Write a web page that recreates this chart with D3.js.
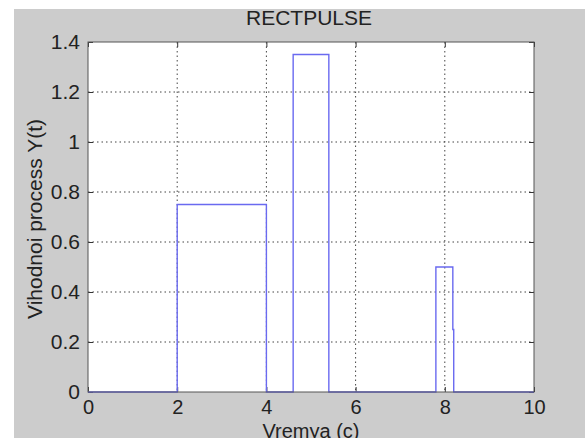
<!DOCTYPE html>
<html><head><meta charset="utf-8">
<script src="https://cdn.jsdelivr.net/npm/d3@7"></script>
<style>body{margin:0;background:#fff}svg{display:block}text{font-family:"Liberation Sans",Arial,sans-serif;fill:#222}</style>
</head><body><svg id="c" width="585" height="442"></svg>
<script>
const timeValues = [0, 2, 2, 4, 4, 4.6, 4.6, 5.4, 5.4, 7.8, 7.8, 8.18, 8.18, 8.2, 8.2, 10];
const outputValues = [0, 0, 0.75, 0.75, 0, 0, 1.35, 1.35, 0, 0, 0.5, 0.5, 0.25, 0.25, 0, 0];
const xTicks = [0, 2, 4, 6, 8, 10];
const yTicks = [0, 0.2, 0.4, 0.6, 0.8, 1, 1.2, 1.4];
const titleText = "RECTPULSE";
const xLabel = "Vremya (c)";
const yLabel = "Vihodnoi process Y(t)";

const svg = d3.select("#c");
const L = 88, R = 534, T = 42, B = 392;
svg.append("rect").attr("x", 14).attr("y", 9).attr("width", 571).attr("height", 429).attr("fill", "#cccccc");
svg.append("rect").attr("x", L).attr("y", T).attr("width", R - L).attr("height", B - T).attr("fill", "#fff");

const x = d3.scaleLinear().domain([0, 10]).range([L, R]);
const y = d3.scaleLinear().domain([0, 1.4]).range([B, T]);

// grid
const g = svg.append("g");
g.selectAll(".gx").data(xTicks.slice(1, -1)).join("line")
  .attr("x1", d => x(d)).attr("x2", d => x(d)).attr("y1", T).attr("y2", B)
  .attr("stroke", "#444").attr("stroke-dasharray", "1.5,3");
g.selectAll(".gy").data(yTicks.slice(1, -1)).join("line")
  .attr("y1", d => y(d)).attr("y2", d => y(d)).attr("x1", L).attr("x2", R)
  .attr("stroke", "#444").attr("stroke-dasharray", "1.5,3");

// axes
const tickLen = 5;
const axB = d3.axisBottom(x).tickValues(xTicks).tickSize(-tickLen).tickPadding(8).tickFormat(d3.format("d"));
const axT = d3.axisTop(x).tickValues(xTicks).tickSize(-tickLen).tickFormat("");
const axL = d3.axisLeft(y).tickValues(yTicks).tickSize(-tickLen).tickPadding(8).tickFormat(d => d === 0 ? "0" : d3.format("")(+d.toFixed(1)));
const axR = d3.axisRight(y).tickValues(yTicks).tickSize(-tickLen).tickFormat("");
function style(sel, fs) {
  sel.select(".domain").remove();
  sel.selectAll("line").attr("stroke", "#333");
  sel.selectAll("text").style("font-size", fs + "px").attr("fill", "#222").style("font-family", '"Liberation Sans",Arial,sans-serif');
}
svg.append("g").attr("transform", `translate(0,${B})`).call(axB).call(style, 20);
svg.append("g").attr("transform", `translate(0,${T})`).call(axT).call(style, 20);
svg.append("g").attr("transform", `translate(${L},0)`).call(axL).call(style, 21);
svg.append("g").attr("transform", `translate(${R},0)`).call(axR).call(style, 20);

// signal line
const pts = timeValues.map((t, i) => [t, outputValues[i]]);
svg.append("path").datum(pts)
  .attr("d", d3.line().x(d => x(d[0])).y(d => y(d[1])))
  .attr("fill", "none").attr("stroke", "#6a6af0").attr("stroke-width", 1.4);

// box
svg.append("rect").attr("x", L).attr("y", T).attr("width", R - L).attr("height", B - T)
  .attr("fill", "none").attr("stroke", "#555").attr("stroke-width", 1);

// texts
svg.append("text").attr("x", 309).attr("y", 25).attr("text-anchor", "middle")
  .style("font-size", "21px").text(titleText);
svg.append("text").attr("x", 311).attr("y", 437.5).attr("text-anchor", "middle")
  .style("font-size", "20px").text(xLabel);
svg.append("text").attr("transform", `translate(42,${(T + B) / 2 + 2}) rotate(-90)`).attr("text-anchor", "middle")
  .style("font-size", "21px").text(yLabel);

// white bottom strip (figure border)
svg.append("rect").attr("x", 0).attr("y", 438).attr("width", 585).attr("height", 4).attr("fill", "#fff");
</script></body></html>
